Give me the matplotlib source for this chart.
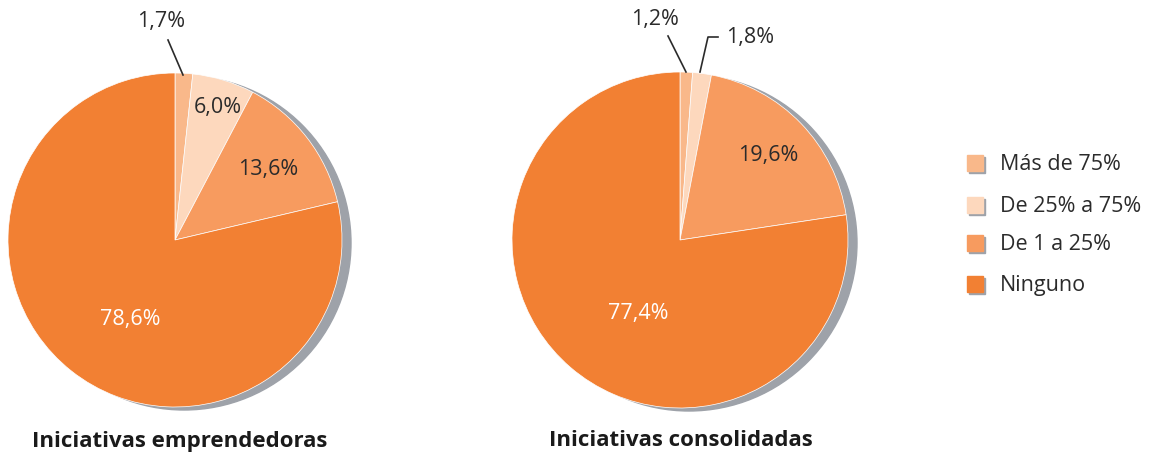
import numpy as np
import matplotlib.pyplot as plt
from matplotlib.patches import Circle, Rectangle

plt.rcParams['font.family'] = ['Open Sans', 'DejaVu Sans']

categories = ['Más de 75%', 'De 25% a 75%', 'De 1 a 25%', 'Ninguno']
colors = ['#F9B88A', '#FDD8BD', '#F79B5F', '#F28033']
emprendedoras = [1.7, 6.0, 13.6, 78.6]
consolidadas = [1.2, 1.8, 19.6, 77.4]
titles = ['Iniciativas emprendedoras', 'Iniciativas consolidadas']

W, H = 1149, 457
fig = plt.figure(figsize=(W / 100, H / 100), dpi=100)
ax = fig.add_axes([0, 0, 1, 1])

TXT = '#2b2b2b'
FS = 15.5


def fmt(v):
    return f'{v:.1f}%'.replace('.', ',')


def draw_pie(values, center, radius, title, title_x, label_pos, callouts):
    cx, cy = center
    # drop shadow behind the pie
    ax.add_patch(Circle((cx + 9, cy - 3), radius, color='#9EA2A9', zorder=1))
    ax.pie(values, colors=colors, startangle=90, counterclock=False,
           center=center, radius=radius, frame=True,
           wedgeprops=dict(edgecolor='white', linewidth=0.5, zorder=2))
    for i, (dx, dy) in label_pos.items():
        col = 'white' if i == 3 else TXT
        ax.text(cx + dx, cy + dy, fmt(values[i]), fontsize=FS, color=col,
                ha='center', va='center', zorder=5)
    # small slices get a leader line to a label outside the pie
    for i, (pts, tx, ty, ha) in callouts.items():
        xs = [cx + p[0] for p in pts]
        ys = [cy + p[1] for p in pts]
        ax.plot(xs, ys, color=TXT, lw=1.2, zorder=5)
        ax.text(cx + tx, cy + ty, fmt(values[i]), fontsize=FS, color=TXT,
                ha=ha, va='center', zorder=5)
    ax.text(title_x, 16, title, fontsize=16, fontweight='bold', color='#1a1a1a',
            ha='center', va='center')


draw_pie(emprendedoras, (175, 217), 167, titles[0], 180,
         {1: (43, 133), 2: (93, 70), 3: (-45, -80)},
         {0: ([(8, 165), (-7, 200)], -14, 218, 'center')})
draw_pie(consolidadas, (680, 217), 168, titles[1], 681,
         {2: (88, 85), 3: (-42, -73)},
         {0: ([(6, 168), (-12, 204)], -25, 220, 'center'),
          1: ([(20, 168), (28, 203), (38, 203)], 46, 203, 'left')})

# legend: swatches with a small grey shadow
leg_y = [293, 251, 213, 172]
for name, col, y in zip(categories, colors, leg_y):
    ax.add_patch(Rectangle((969, y - 9), 16, 16, color='#9EA2A9', zorder=1))
    ax.add_patch(Rectangle((967, y - 7), 16, 16, color=col, zorder=2))
    ax.text(1000, y, name, fontsize=FS, color=TXT, ha='left', va='center')

ax.set_xlim(0, W)
ax.set_ylim(0, H)
ax.set_aspect('equal')
ax.axis('off')

fig.savefig('out.png', dpi=100)
